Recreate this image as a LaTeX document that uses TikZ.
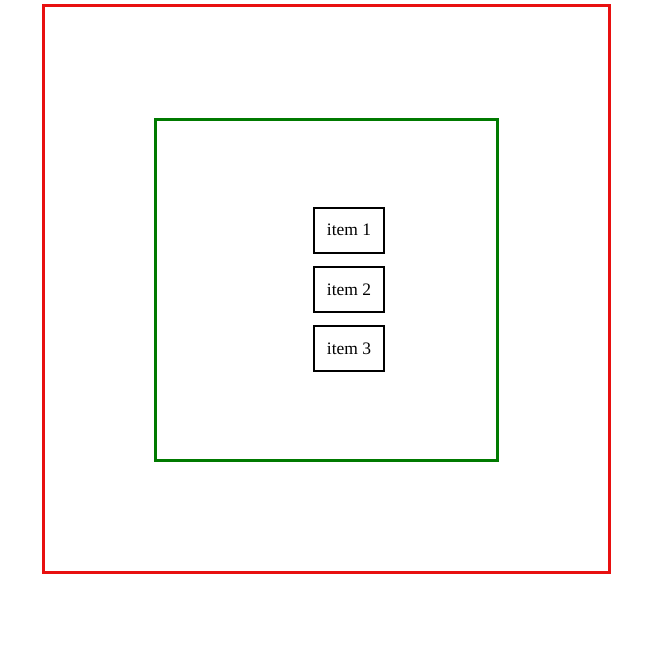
\documentclass[tikz,border=0pt]{standalone}
\usepackage{fontspec}
\setmainfont{Liberation Serif}
\definecolor{boxred}{HTML}{E81010}
\definecolor{boxgreen}{HTML}{007A00}
\begin{document}
\begin{tikzpicture}[x=1pt,y=-1pt,
  outerbox/.style={draw=boxred,line width=3pt},
  innerbox/.style={draw=boxgreen,line width=3pt},
  itembox/.style={draw=black,line width=2pt,minimum width=70pt,minimum height=45pt,inner sep=0pt,font=\fontsize{17.5}{19}\selectfont}]
\useasboundingbox (0,0) rectangle (663,661);
\fill[white] (0,0) rectangle (663,661);
\draw[outerbox] (43,6) rectangle (609,572);
\draw[innerbox] (155,119) rectangle (497,460);
\node[itembox] (i1) at (349,230) {item 1};
\node[itembox] (i2) at (349,289.5) {item 2};
\node[itembox] (i3) at (349,348.5) {item 3};
\end{tikzpicture}
\end{document}
